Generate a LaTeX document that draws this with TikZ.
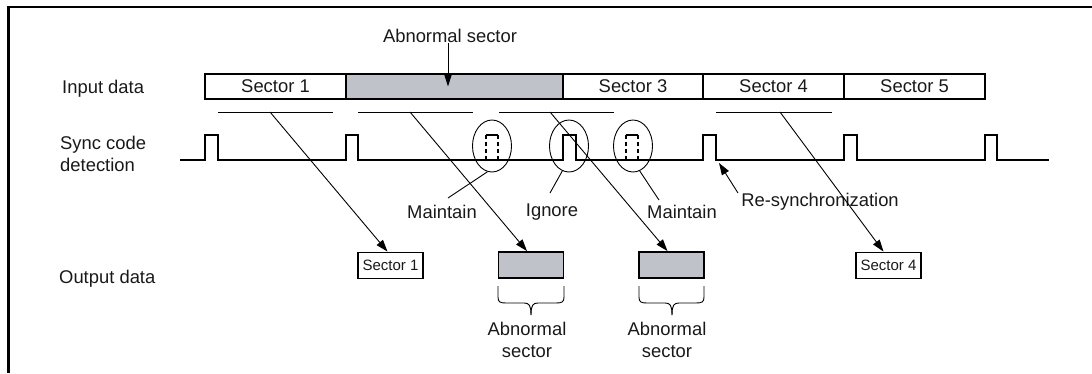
\documentclass[tikz,border=0pt]{standalone}
\usepackage{fontspec}
\setmainfont{Liberation Sans}
\usetikzlibrary{shapes.geometric,arrows.meta}
\definecolor{sgray}{RGB}{191,195,201}
\begin{document}
\begin{tikzpicture}[x=1pt,y=-1pt,
  every node/.style={font=\fontsize{18.4}{22}\selectfont, text=black!90, inner sep=0pt},
  inbox/.style={draw, line width=1.8pt, minimum height=25pt},
  outbox/.style={draw, line width=1.8pt, minimum height=26pt, minimum width=65pt, font=\fontsize{15}{18}\selectfont},
  thinline/.style={line width=0.9pt},
  arr/.style={line width=0.9pt, -{Triangle[length=12pt,width=8pt]}},
  sig/.style={line width=2pt, line join=miter},
  ring/.style={ellipse, draw, line width=0.9pt, minimum width=39pt, minimum height=52pt},
  missing/.style={line width=1.6pt, dash pattern=on 4pt off 3pt},
  bracepath/.style={line width=0.9pt}]
\useasboundingbox (0,0) rectangle (1092,373);
% frame
\draw[line width=2.5pt] (8.5,373) -- (8.5,7) -- (1092,7);

% row labels
\node[anchor=west] (inl) at (62,89) {Input data};
\node[anchor=west, align=left] (syl) at (60,154) {Sync code\\detection};
\node[anchor=west] (outl) at (59,279) {Output data};

% input boxes
\node[inbox, fill=sgray, minimum width=217pt] (abx) at (454.5,86.5) {};
\node[inbox, minimum width=141pt] (s1) at (275.5,86.5) {Sector 1};
\node[inbox, minimum width=140pt] (s3) at (633,86.5) {Sector 3};
\node[inbox, minimum width=141pt] (s4) at (773.5,86.5) {Sector 4};
\node[inbox, minimum width=141pt] (s5) at (914.5,86.5) {Sector 5};

% abnormal sector label
\node (abl) at (450,36) {Abnormal sector};
\draw[line width=0.9pt, -{Triangle[length=13pt,width=8pt]}] ([xshift=-2pt]abl.south) -- ([xshift=-2pt]abl.south |- abx.center);

% underlines
\coordinate (l1a) at (218,112); \coordinate (l1b) at (333,112);
\coordinate (l2a) at (358,112); \coordinate (l2b) at (473,112);
\coordinate (l3a) at (499,112); \coordinate (l3b) at (614,112);
\coordinate (l4a) at (716,112); \coordinate (l4b) at (832,112);
\draw[thinline] (l1a) -- (l1b);
\draw[thinline] (l2a) -- (l2b);
\draw[thinline] (l3a) -- (l3b);
\draw[thinline] (l4a) -- (l4b);
\coordinate (u1) at (270,112);
\coordinate (u2) at (410,112);
\coordinate (u3) at (550,112);
\coordinate (u4) at (780,112);

% sync signal
\draw[sig] (180,160) -- (205,160) -- (205,135) -- (218,135) -- (218,160)
  -- (346,160) -- (346,135) -- (358,135) -- (358,160)
  -- (563,160) -- (563,135) -- (576,135) -- (576,160)
  -- (703,160) -- (703,135) -- (716,135) -- (716,160)
  -- (844,160) -- (844,135) -- (857,135) -- (857,160)
  -- (985,160) -- (985,135) -- (997,135) -- (997,160) -- (1049,160);
% missing pulses
\draw[missing] (486,160) -- (486,135);
\draw[missing] (498,160) -- (498,135);
\draw[line width=1.6pt] (486,135) -- (498,135);
\draw[missing] (626,160) -- (626,135);
\draw[missing] (638,160) -- (638,135);
\draw[line width=1.6pt] (626,135) -- (638,135);

% rings
\node[ring] (e1) at (492,146) {};
\node[ring] (e2) at (569,146) {};
\node[ring] (e3) at (633,146) {};

% annotations
\node (m1) at (442,212) {Maintain};
\node (ig) at (552,212) {Ignore};
\node (m2) at (682,212) {Maintain};
\node (rsl) at (820,202) {Re-synchronization};
\coordinate (m1t) at (448,198);
\coordinate (igt) at (550,193);
\coordinate (m2t) at (659,200);
\draw[thinline] (m1t) -- (e1.260);
\draw[thinline] (igt) -- (e2.255);
\draw[thinline] (m2t) -- (e3.285);
\coordinate (rst) at (738,193);
\coordinate (p4) at (719,163);
\draw[arr] (rst) -- (p4);

% output boxes
\node[outbox] (o1) at (390.5,265.5) {Sector 1};
\node[outbox, fill=sgray] (g1) at (531,265) {};
\node[outbox, fill=sgray] (g2) at (671.5,265) {};
\node[outbox] (o4) at (888.5,265.5) {Sector 4};

% data arrows
\draw[arr] (u1) -- ([xshift=-3pt]o1.north);
\draw[arr] (u2) -- ([xshift=-4pt]g1.north);
\draw[arr] (u3) -- ([xshift=-4pt]g2.north);
\draw[arr] (u4) -- ([xshift=-5pt]o4.north);

% braces
\draw[bracepath] (498,286) -- (498,297) .. controls (498,302) and (500,303) .. (506,303) -- (524,303) .. controls (529,303) and (531,305) .. (531,315);
\draw[bracepath] (564,286) -- (564,297) .. controls (564,302) and (562,303) .. (556,303) -- (538,303) .. controls (533,303) and (531,305) .. (531,315);
\draw[bracepath] (639,286) -- (639,297) .. controls (639,302) and (641,303) .. (647,303) -- (665,303) .. controls (670,303) and (672,305) .. (672,315);
\draw[bracepath] (704,286) -- (704,297) .. controls (704,302) and (702,303) .. (696,303) -- (679,303) .. controls (674,303) and (672,305) .. (672,315);

\node[align=center] (a1) at (527,339.5) {Abnormal\\sector};
\node[align=center] (a2) at (667,339.5) {Abnormal\\sector};
\end{tikzpicture}
\end{document}
